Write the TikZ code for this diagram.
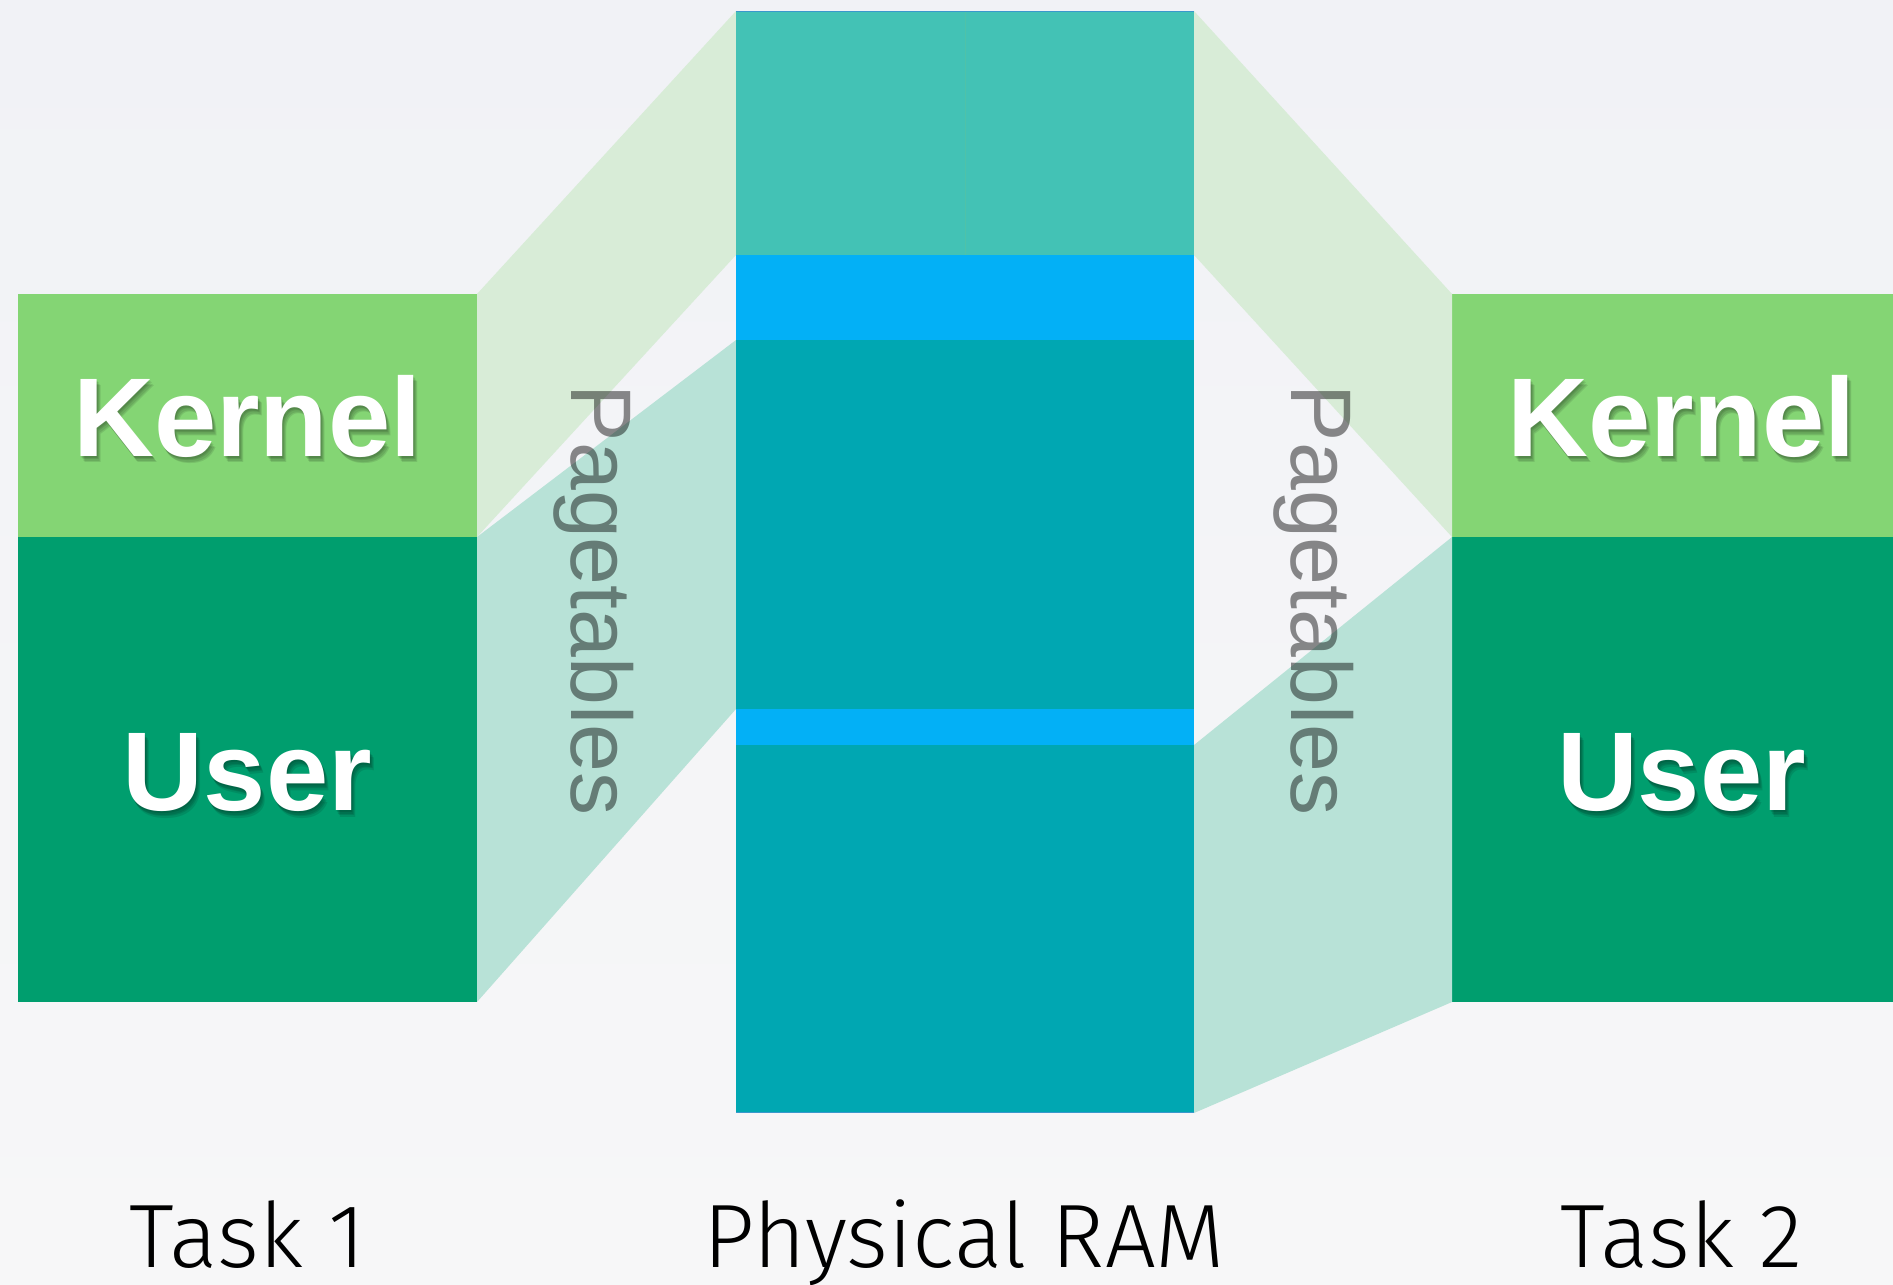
\documentclass[tikz,border=0pt]{standalone}
\usepackage{fontspec}
\setmainfont{Liberation Sans}
\newfontfamily\lightfont{Fira Sans Light}
\definecolor{bgtop}{HTML}{F1F2F6}
\definecolor{bgbot}{HTML}{F7F7F8}
\definecolor{kgreen}{HTML}{84D574}
\definecolor{ugreen}{HTML}{009E6E}
\definecolor{ramtop}{HTML}{43C2B5}
\definecolor{ramblue}{HTML}{03B0F6}
\definecolor{ramteal}{HTML}{00A7B2}
\definecolor{kband}{HTML}{D8ECD7}
\definecolor{uband}{HTML}{B8E2D7}
\definecolor{ramedge}{HTML}{3A98CC}
\definecolor{ramsplit}{HTML}{4FC2A8}
\begin{document}
\begin{tikzpicture}[x=0.5pt,y=-0.5pt,
  boxlbl/.style={text=white, inner sep=0pt, anchor=base, font=\fontsize{56}{60}\selectfont\bfseries},
  shadowlbl/.style={text=black, text opacity=0.1, inner sep=0pt, anchor=base, font=\fontsize{56}{60}\selectfont\bfseries},
  tasklbl/.style={text=black, inner sep=0pt, anchor=base, font=\lightfont\fontsize{45}{50}\selectfont},
  ptlbl/.style={text=black, text opacity=0.45, inner sep=0pt, anchor=base, rotate=-90, font=\fontsize{43}{48}\selectfont}]
\useasboundingbox (0,0) rectangle (1893,1284);
\shade[top color=bgtop, bottom color=bgbot] (0,0) rectangle (1893,1284);
% task boxes
\fill[kgreen] (18,294) rectangle (477,537);
\fill[ugreen] (18,537) rectangle (477,1002);
\fill[kgreen] (1452,294) rectangle (1893,537);
\fill[ugreen] (1452,537) rectangle (1893,1002);
% page table bands
\fill[kband] (477,294) -- (736,11) -- (736,255) -- (477,537) -- cycle;
\fill[uband] (477,537) -- (736,340) -- (736,709) -- (477,1002) -- cycle;
\fill[kband] (1194,11) -- (1452,294) -- (1452,537) -- (1194,255) -- cycle;
\fill[uband] (1194,745) -- (1452,537) -- (1452,1002) -- (1194,1113) -- cycle;
% physical RAM
\fill[ramtop] (736,11) rectangle (1194,255);
\fill[ramblue] (736,255) rectangle (1194,340);
\fill[ramteal] (736,340) rectangle (1194,709);
\fill[ramblue] (736,709) rectangle (1194,745);
\fill[ramteal] (736,745) rectangle (1194,1113);
\draw[ramsplit, line width=0.5pt] (965,12) -- (965,255);
\draw[ramedge, line width=0.8pt] (736,11.5) -- (1194,11.5);
\draw[ramedge, line width=0.8pt] (736,1112.5) -- (1194,1112.5);
% labels with soft shadow
\foreach \dx/\dy [count=\i] in {1/2,2/3.5,3/5,4/6.5} {
  \node[shadowlbl] (k1s\i) at (247.5+\dx,456+\dy) {Kernel};
  \node[shadowlbl] (u1s\i) at (247.5+\dx,810.5+\dy) {User};
  \node[shadowlbl] (k2s\i) at (1681.5+\dx,456+\dy) {Kernel};
  \node[shadowlbl] (u2s\i) at (1681.5+\dx,810.5+\dy) {User};
}
\node[boxlbl] (k1) at (247.5,456) {Kernel};
\node[boxlbl] (u1) at (247.5,810.5) {User};
\node[boxlbl] (k2) at (1681.5,456) {Kernel};
\node[boxlbl] (u2) at (1681.5,810.5) {User};
% page tables labels
\node[ptlbl] (pt1) at (571,600) {Pagetables};
\node[ptlbl] (pt2) at (1291,600) {Pagetables};
% captions
\node[tasklbl] (t1) at (247.5,1267) {Task 1};
\node[tasklbl] (ram) at (964.5,1267) {Physical RAM};
\node[tasklbl] (t2) at (1681.5,1267) {Task 2};
\end{tikzpicture}
\end{document}
